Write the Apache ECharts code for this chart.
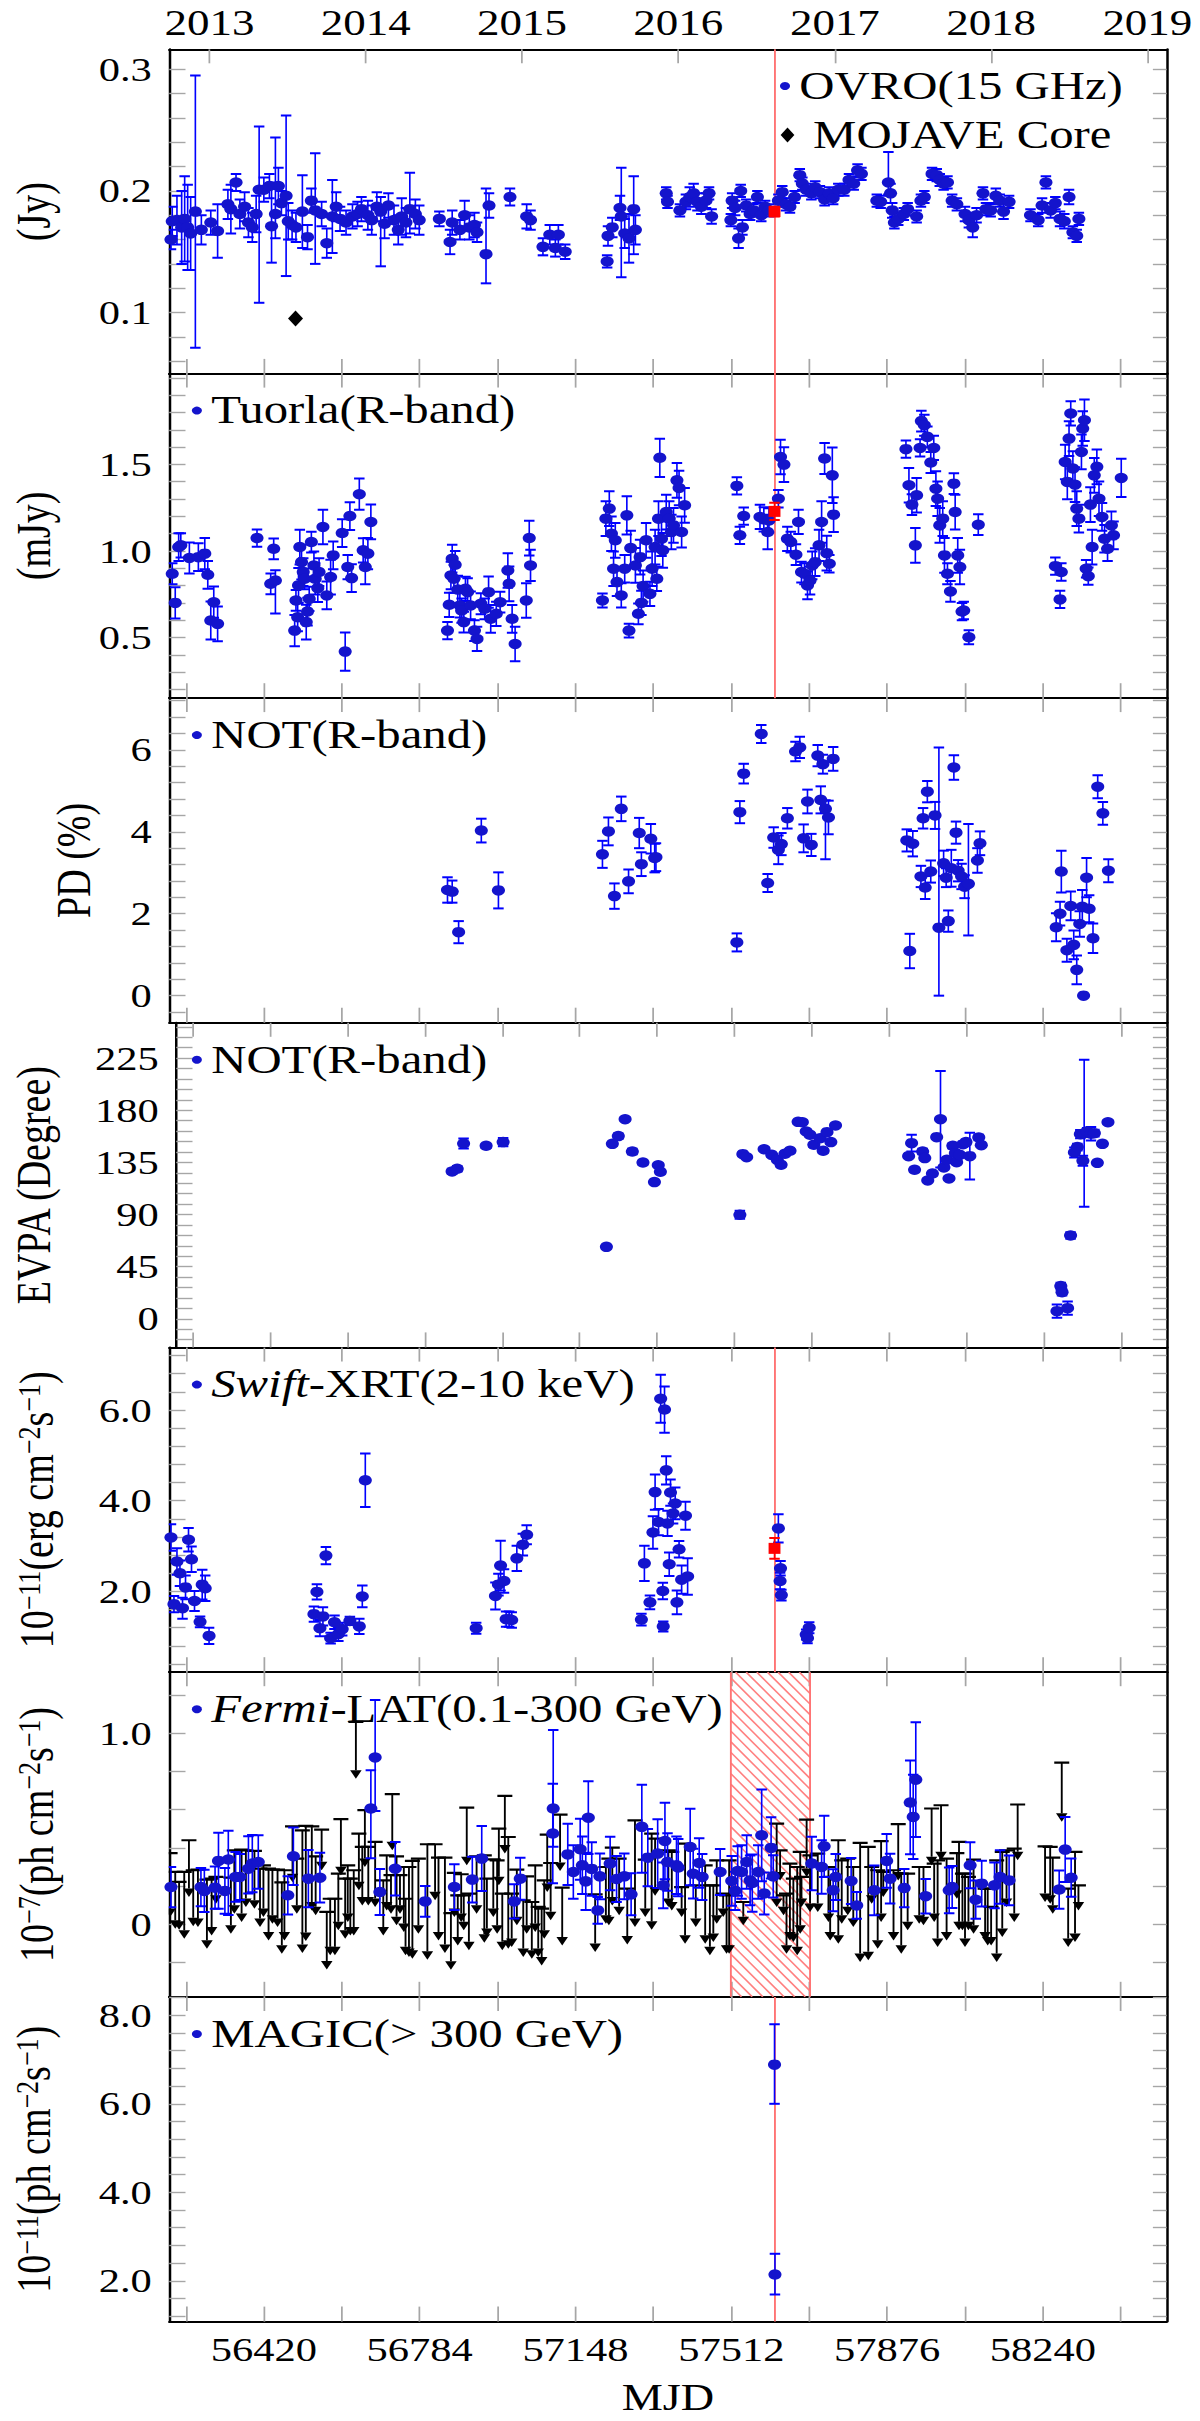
<!DOCTYPE html>
<html>
<head>
<meta charset="utf-8">
<title>Multi-wavelength light curves</title>
<script src="https://cdn.jsdelivr.net/npm/echarts@6.0.0/dist/echarts.min.js"></script>
<style>
html, body { margin: 0; padding: 0; overflow: hidden; background: #fff; }
/* the reference figure is stretched sideways, so the chart is drawn narrower and scaled */
#lc { width: 960px; height: 2421px; transform: scaleX(1.25); transform-origin: 0 0; }
</style>
</head>
<body>
<div id="lc"></div>
<script>
var FONT = "'Liberation Serif', 'DejaVu Serif', serif";
var BLUE = '#0000ff', DOT = '#1414cc', RED = '#ff0000', FLARE = '#ff7373', TICK = '#a6a6a6';

// x axis (MJD) and the year axis on top
var xMin = 56199, xMax = 58529;
var mjdLabels = [56420, 56784, 57148, 57512, 57876, 58240];
var mjdTicks = [56238, 56420, 56602, 56784, 56966, 57148, 57330, 57512, 57694, 57876, 58058, 58240, 58422];
var yearMjd = [56293, 56658, 57023, 57388, 57754, 58119, 58484];
var yearLabels = ['2013', '2014', '2015', '2016', '2017', '2018', '2019'];

var flareMjd = 57614;
var hatchRange = [57511, 57696];

// y tick labels per panel
var ovroLabels = [0.1, 0.2, 0.3];
var tuorlaLabels = [0.5, 1.0, 1.5];
var pdLabels = [0, 2, 4, 6];
var evpaLabels = [0, 45, 90, 135, 180, 225];
var swiftLabels = [2.0, 4.0, 6.0];
var fermiLabels = [0, 1.0];
var magicLabels = [2.0, 4.0, 6.0, 8.0];

// [MJD, value, err] or [MJD, value, errLow, errHigh]
var ovroFlux = [
  [56203,0.160,0.008],[56206,0.175,0.012],[56217,0.176,0.02],[56228,0.170,0.03],[56235,0.177,0.035],
  [56242,0.170,0.035],[56249,0.165,0.03],[56260,0.183,0.112],[56274,0.168,0.012],[56296,0.174,0.01],
  [56312,0.167,0.022],[56336,0.189,0.012],[56343,0.185,0.02],[56355,0.207,0.007],[56364,0.181,0.012],
  [56375,0.187,0.012],[56384,0.174,0.012],[56393,0.170,0.012],[56402,0.181,0.015],[56409,0.201,0.093,0.052],
  [56420,0.201,0.01],[56433,0.204,0.01],[56438,0.171,0.03,0.036],[56447,0.181,0.02,0.063],[56454,0.204,0.015],
  [56461,0.190,0.01],[56472,0.196,0.066],[56477,0.175,0.015],[56486,0.172,0.012],[56495,0.170,0.012],
  [56510,0.183,0.03],[56522,0.162,0.01],[56531,0.192,0.01],[56540,0.184,0.044,0.047],[56555,0.181,0.01],
  [56567,0.157,0.012],[56580,0.179,0.03],[56589,0.187,0.012],[56598,0.177,0.01],[56612,0.174,0.01],
  [56627,0.179,0.01],[56639,0.181,0.01],[56648,0.185,0.01],[56663,0.180,0.012],[56672,0.176,0.012],
  [56684,0.187,0.012],[56693,0.183,0.045,0.012],[56702,0.173,0.012],[56711,0.188,0.01],[56724,0.176,0.012],
  [56734,0.168,0.012],[56742,0.179,0.015],[56752,0.174,0.012],[56761,0.185,0.02,0.03],[56774,0.181,0.012],
  [56783,0.176,0.012],
  [56830,0.177,0.006],[56855,0.158,0.01],[56860,0.174,0.01],[56878,0.168,0.008],[56889,0.180,0.012],
  [56900,0.170,0.01],[56912,0.172,0.01],[56918,0.166,0.008],[56939,0.148,0.024,0.054],[56946,0.188,0.01],
  [56995,0.195,0.007],[57034,0.179,0.01],[57043,0.176,0.008],[57072,0.154,0.007],[57088,0.164,0.008],
  [57101,0.153,0.007],[57108,0.164,0.008],[57124,0.150,0.006],
  [57222,0.142,0.005],[57224,0.163,0.008],[57234,0.170,0.008],[57252,0.186,0.01],[57255,0.179,0.05,0.04],
  [57263,0.165,0.012],[57273,0.161,0.02],[57284,0.185,0.037,0.027],[57288,0.168,0.012],
  [57360,0.198,0.005],[57363,0.191,0.005],[57392,0.184,0.005],[57406,0.191,0.006],[57415,0.195,0.008],
  [57424,0.198,0.008],[57433,0.191,0.007],[57442,0.187,0.006],[57453,0.192,0.006],[57460,0.198,0.005],
  [57466,0.179,0.006],[57511,0.176,0.005],[57514,0.192,0.006],[57521,0.186,0.006],[57529,0.161,0.008],
  [57534,0.200,0.005],[57538,0.170,0.006],[57547,0.188,0.005],[57556,0.181,0.005],[57564,0.184,0.005],
  [57573,0.195,0.005],[57582,0.180,0.005],[57591,0.187,0.005],[57600,0.184,0.005],[57622,0.192,0.005],
  [57631,0.199,0.005],[57640,0.189,0.005],[57649,0.187,0.005],[57660,0.195,0.005],[57672,0.213,0.005],
  [57678,0.206,0.005],[57687,0.201,0.005],[57699,0.198,0.005],[57708,0.203,0.005],[57719,0.199,0.005],
  [57730,0.193,0.005],[57741,0.198,0.005],[57750,0.194,0.005],[57762,0.201,0.005],[57776,0.201,0.005],
  [57787,0.209,0.005],[57798,0.206,0.005],[57807,0.217,0.005],[57816,0.214,0.005],
  [57852,0.192,0.005],[57861,0.191,0.005],[57879,0.207,0.01,0.025],[57884,0.198,0.008],[57888,0.184,0.006],
  [57893,0.174,0.005],[57902,0.177,0.005],[57915,0.181,0.005],[57924,0.185,0.005],[57945,0.179,0.005],
  [57955,0.192,0.005],[57963,0.195,0.005],[57981,0.214,0.005],[57992,0.213,0.005],[57999,0.209,0.005],
  [58008,0.206,0.005],[58017,0.207,0.005],[58028,0.192,0.005],[58039,0.189,0.005],[58058,0.181,0.006],
  [58067,0.176,0.006],[58076,0.170,0.008],[58085,0.180,0.006],[58100,0.198,0.005],[58107,0.185,0.005],
  [58118,0.184,0.005],[58130,0.196,0.006],[58139,0.192,0.005],[58148,0.183,0.006],[58161,0.191,0.005],
  [58211,0.180,0.005],[58229,0.176,0.005],[58238,0.188,0.006],[58247,0.207,0.005],[58258,0.184,0.006],
  [58269,0.190,0.005],[58280,0.177,0.006],[58290,0.175,0.006],[58301,0.195,0.006],[58310,0.166,0.005],
  [58319,0.163,0.005],[58324,0.177,0.005]
];
var mojaveCore = [[56494, 0.095]];
var ovroFlare = [[57613, 0.183, 0.004]];

var tuorlaFlux = [
  [56206,0.869,0.06],[56213,0.701,0.09],[56221,1.023,0.08],[56226,1.033,0.07],[56246,0.960,0.09],
  [56267,0.965,0.08],[56282,0.985,0.09],[56289,0.863,0.08],[56296,0.599,0.11],[56303,0.705,0.09],
  [56312,0.580,0.1],[56404,1.075,0.05],[56436,0.811,0.06],[56443,1.013,0.06],[56447,0.830,0.19,0.06],
  [56492,0.541,0.09],[56495,0.715,0.06],[56499,0.618,0.08],[56501,0.802,0.1],[56504,1.023,0.1],
  [56508,0.936,0.1],[56512,0.879,0.08],[56515,0.840,0.06],[56519,0.590,0.1],[56522,0.651,0.08],
  [56526,0.724,0.07],[56531,1.052,0.06],[56537,0.917,0.08],[56540,0.840,0.09],[56546,0.786,0.08],
  [56549,0.879,0.08],[56558,1.139,0.1],[56567,0.744,0.08],[56576,0.850,0.1],[56582,0.975,0.08],
  [56603,1.104,0.08],[56610,0.420,0.11],[56616,0.908,0.07],[56621,1.202,0.08],[56625,0.844,0.08],
  [56643,1.328,0.09],[56652,1.004,0.07],[56657,0.908,0.1],[56663,0.985,0.09],[56670,1.168,0.1],
  [56849,0.541,0.05],[56853,0.690,0.07],[56857,0.859,0.08],[56860,0.956,0.08],[56864,0.840,0.08],
  [56867,0.921,0.08],[56873,0.778,0.08],[56878,0.686,0.07],[56882,0.657,0.07],[56887,0.590,0.06],
  [56891,0.782,0.07],[56896,0.763,0.08],[56903,0.686,0.08],[56912,0.541,0.06],[56918,0.493,0.07],
  [56927,0.696,0.06],[56936,0.667,0.06],[56945,0.763,0.09],[56950,0.609,0.08],[56963,0.638,0.07],
  [56972,0.705,0.06],[56990,0.888,0.1],[56993,0.811,0.1],[57000,0.609,0.08],[57007,0.464,0.1],
  [57033,0.715,0.1],[57040,1.075,0.1],[57043,0.917,0.09],
  [57211,0.715,0.04],[57219,1.187,0.1],[57227,1.245,0.1],[57232,1.100,0.1],[57237,0.898,0.1],
  [57241,1.062,0.1],[57245,0.821,0.08],[57255,0.744,0.07],[57263,0.898,0.08],[57268,1.206,0.11],
  [57273,0.541,0.04],[57277,1.017,0.1],[57288,0.917,0.1],[57295,0.638,0.06],[57299,0.965,0.1],
  [57302,0.701,0.07],[57306,0.798,0.09],[57313,1.062,0.1],[57322,0.753,0.07],[57327,0.898,0.1],
  [57334,1.023,0.1],[57338,0.840,0.07],[57342,1.187,0.1],[57345,1.538,0.11],[57349,1.071,0.1],
  [57352,1.004,0.1],[57360,1.225,0.1],[57367,1.187,0.1],[57372,1.110,0.1],[57377,1.148,0.1],
  [57385,1.408,0.1],[57390,1.364,0.1],[57396,1.110,0.09],[57403,1.264,0.1],
  [57525,1.376,0.05],[57532,1.091,0.05],[57541,1.202,0.05],[57579,1.197,0.07],[57588,1.183,0.07],
  [57597,1.110,0.1],[57600,1.177,0.07],[57622,1.302,0.05],[57627,1.543,0.1],[57635,1.499,0.1],
  [57643,1.071,0.07],[57651,1.052,0.06],[57663,0.979,0.06],[57669,1.168,0.07],[57676,0.879,0.06],
  [57683,0.869,0.06],[57690,0.802,0.08],[57696,0.830,0.08],[57701,0.917,0.08],[57708,0.936,0.08],
  [57717,1.033,0.09],[57723,1.168,0.12],[57730,1.534,0.09],[57735,0.988,0.1],[57741,0.927,0.05],
  [57748,1.437,0.16],[57751,1.210,0.1],
  [57920,1.588,0.05],[57927,1.380,0.1],[57934,1.268,0.06],[57942,1.033,0.1],[57945,1.322,0.1],
  [57953,1.595,0.05],[57956,1.750,0.06],[57963,1.726,0.06],[57970,1.659,0.06],[57978,1.511,0.06],
  [57985,1.595,0.07],[57990,1.360,0.1],[57994,1.302,0.1],[57999,1.148,0.1],[58006,1.187,0.1],
  [58010,0.975,0.1],[58017,0.869,0.06],[58024,0.767,0.06],[58032,1.389,0.06],[58035,1.225,0.1],
  [58041,0.975,0.1],[58046,0.908,0.1],[58051,0.651,0.05],[58055,0.657,0.05],[58067,0.503,0.04],
  [58089,1.152,0.06],
  [58269,0.913,0.05],[58280,0.721,0.05],[58283,0.879,0.05],[58292,1.514,0.1],[58297,1.399,0.1],
  [58301,1.649,0.1],[58305,1.794,0.07],[58310,1.476,0.1],[58315,1.383,0.1],[58319,1.245,0.1],
  [58324,1.187,0.08],[58330,1.572,0.1],[58333,1.707,0.1],[58337,1.755,0.12],[58341,0.898,0.05],
  [58346,0.855,0.05],[58351,1.268,0.1],[58355,1.023,0.1],[58360,1.437,0.1],[58366,1.486,0.1],
  [58371,1.302,0.1],[58378,1.197,0.08],[58384,1.071,0.08],[58391,1.013,0.07],[58400,1.148,0.08],
  [58405,1.091,0.08],[58423,1.422,0.11]
];
var tuorlaFlare = [[57613, 1.229, 0.05]];

var pdValues = [
  [56849,2.58,0.31],[56860,2.54,0.27],[56875,1.55,0.27],[56928,4.03,0.29],[56968,2.57,0.44],
  [57211,3.45,0.33],[57225,4.01,0.34],[57239,2.43,0.31],[57255,4.56,0.30],[57272,2.79,0.29],
  [57297,3.97,0.37],[57302,3.21,0.29],[57324,3.83,0.36],[57333,3.36,0.35],[57336,3.38,0.34],
  [57525,1.30,0.22],[57532,4.48,0.27],[57541,5.42,0.24],[57582,6.39,0.22],[57597,2.75,0.22],
  [57611,3.86,0.25],[57622,3.56,0.35],[57629,3.70,0.27],[57643,4.33,0.25],[57662,5.96,0.24],
  [57672,6.06,0.26],[57681,3.84,0.34],[57690,4.74,0.29],[57699,3.68,0.27],[57714,5.86,0.26],
  [57721,4.78,0.33],[57726,5.65,0.23],[57732,4.56,1.23,0.21],[57739,4.35,0.41],[57750,5.78,0.29],
  [57922,3.79,0.27],[57929,1.09,0.42],[57936,3.71,0.31],[57955,2.91,0.26],[57960,4.33,0.25],
  [57965,2.64,0.28],[57970,4.98,0.26],[57978,3.03,0.27],[57988,4.40,0.33],[57997,1.66,1.66,4.4],
  [58008,3.23,0.31],[58014,2.88,0.23],[58019,1.82,0.26],[58026,3.11,0.45],[58032,5.57,0.30],
  [58037,3.98,0.27],[58042,3.05,0.26],[58050,2.91,0.31],[58057,2.66,0.28],[58066,2.73,1.26,1.46],
  [58087,3.30,0.30],[58093,3.72,0.29],
  [58271,1.67,0.34],[58280,2.00,0.29],[58283,3.03,0.51],[58296,1.11,0.28],[58305,2.19,0.35],
  [58312,1.24,0.35],[58319,0.63,0.35],[58326,1.75,0.31],[58332,2.17,0.41],[58335,0.0,0.03],
  [58342,2.88,0.48],[58348,2.12,0.33],[58357,1.40,0.36],[58368,5.10,0.28],[58380,4.45,0.28],
  [58393,3.05,0.28]
];

var evpaValues = [
  [56848,127.2,2.3],[56860,129.5,2.3],[56875,151.3,4.3],[56928,149.3,1.7],[56968,152.5,3.5],
  [57211,62.1,1.4],[57225,151.0,1.7],[57239,157.7,2.3],[57255,172.3,1.4],[57272,144.4,2.3],
  [57297,134.9,1.7],[57324,118.0,1.4],[57333,132.6,1.4],[57338,126.9,1.4],
  [57525,89.8,3.5],[57532,142.1,1.7],[57541,139.5,1.4],[57582,146.4,1.4],[57600,141.5,1.4],
  [57613,137.2,1.4],[57622,132.9,1.4],[57631,142.4,1.4],[57643,145.0,1.4],[57662,170.0,1.4],
  [57672,169.7,1.4],[57681,161.7,1.4],[57690,158.8,1.4],[57699,150.2,1.7],[57714,155.9,1.4],
  [57721,145.0,1.4],[57730,161.1,1.4],[57739,152.5,1.4],[57750,166.9,1.4],
  [57922,140.4,1.7],[57929,151.6,7.2],[57936,128.6,1.7],[57955,144.4,2.3],[57960,138.7,1.4],
  [57967,119.4,1.4],[57978,125.4,1.4],[57988,156.8,1.7],[57997,172.3,41.7],[58005,130.6,1.7],
  [58012,137.2,1.7],[58017,121.1,1.4],[58026,149.3,2.3],[58032,143.0,1.4],[58035,135.2,1.7],
  [58042,141.5,1.4],[58050,150.7,2.3],[58057,152.5,2.3],[58066,140.4,20.1],[58087,156.5,2.3],
  [58093,149.9,1.4],
  [58271,6.6,5.8],[58280,28.2,2.9],[58283,23.0,2.9],[58296,9.2,5.8],[58303,71.9,2.9],
  [58312,143.6,4.3],[58319,148.2,2.9],[58326,159.4,3.5],[58332,136.4,4.3],[58335,160.2,63.4],
  [58342,161.7,2.9],[58351,159.7,5.8],[58359,160.2,2.9],[58366,134.6,1.7],[58378,151.0,1.7],
  [58391,169.7,1.7]
];

var swiftFlux = [
  [56203,3.19,0.29],[56210,1.72,0.18],[56217,2.66,0.29],[56224,2.40,0.28],[56230,1.63,0.23],
  [56237,2.09,0.26],[56244,3.14,0.26],[56251,2.71,0.28],[56258,1.79,0.22],[56271,1.33,0.12],
  [56276,2.15,0.33],[56283,2.07,0.28],[56292,1.02,0.18],
  [56537,1.50,0.17],[56544,1.99,0.17],[56551,1.19,0.18],[56558,1.45,0.2],[56565,2.79,0.19],
  [56576,0.97,0.12],[56585,1.32,0.15],[56594,1.06,0.15],[56603,1.17,0.14],[56621,1.35,0.09],
  [56643,1.23,0.17],[56650,1.89,0.24],[56657,4.45,0.59],
  [56916,1.19,0.12],[56961,1.90,0.30],[56968,2.15,0.24],[56973,2.57,0.55],[56981,2.23,0.26],
  [56986,1.39,0.17],[56993,1.39,0.17],[56999,1.37,0.17],[57011,2.73,0.28],[57025,3.03,0.24],
  [57034,3.25,0.21],
  [57302,1.38,0.13],[57309,2.62,0.39],[57322,1.76,0.15],[57329,3.30,0.36],[57334,4.19,0.39],
  [57342,3.53,0.29],[57347,6.25,0.53],[57352,2.01,0.18],[57353,1.23,0.11],[57356,6.01,0.51],
  [57360,4.67,0.31],[57363,3.50,0.28],[57367,2.60,0.26],[57370,4.18,0.29],[57376,3.72,0.22],
  [57381,3.94,0.35],[57385,1.76,0.26],[57390,2.93,0.18],[57396,2.26,0.31],[57405,3.67,0.31],
  [57410,2.33,0.40],
  [57622,3.39,0.31],[57626,2.23,0.18],[57627,2.51,0.16],[57629,1.92,0.12],
  [57687,1.05,0.11],[57690,0.97,0.11],[57694,1.20,0.12]
];
var swiftFlare = [[57613, 2.95, 0.23]];

var fermiFlux = [
  [56203,0.195,0.105],[56273,0.195,0.10],[56281,0.175,0.11],[56306,0.192,0.11],[56314,0.332,0.25,0.147],
  [56329,0.175,0.12],[56337,0.339,0.29,0.15],[56354,0.248,0.13],[56364,0.248,0.12],[56384,0.291,0.13,0.17],
  [56393,0.318,0.15],[56407,0.326,0.14],[56476,0.152,0.10],[56489,0.356,0.15],[56524,0.239,0.15],
  [56551,0.244,0.13],[56670,0.606,0.26,0.2],[56680,0.873,0.28,0.30],[56691,0.169,0.12],[56727,0.291,0.14],
  [56797,0.120,0.08],[56865,0.195,0.12],[56907,0.234,0.12],[56929,0.344,0.17],[57005,0.120,0.09],
  [57019,0.239,0.11],[57095,0.475,0.26],[57096,0.606,0.2,0.41],[57130,0.366,0.16],[57143,0.274,0.14],
  [57159,0.393,0.16],[57164,0.309,0.15],[57172,0.225,0.15],[57178,0.558,0.19],[57186,0.290,0.14],
  [57200,0.073,0.07],[57205,0.251,0.12],[57229,0.318,0.14],[57244,0.237,0.12],[57262,0.251,0.12],
  [57278,0.157,0.11],[57303,0.510,0.24,0.22],[57317,0.349,0.15],[57340,0.370,0.18],[57353,0.204,0.12],
  [57357,0.436,0.2],[57363,0.326,0.15],[57384,0.309,0.15],[57388,0.297,0.15],[57416,0.405,0.2],
  [57423,0.265,0.13],[57437,0.321,0.13],[57444,0.248,0.12],[57486,0.274,0.12],[57513,0.227,0.13],
  [57521,0.175,0.1],[57527,0.279,0.13],[57536,0.274,0.14],[57548,0.326,0.14],[57556,0.230,0.13],
  [57561,0.216,0.15],[57575,0.274,0.14],[57583,0.466,0.24],[57589,0.161,0.11],[57605,0.400,0.16],
  [57610,0.251,0.11],[57700,0.318,0.14],[57723,0.300,0.14],[57729,0.408,0.16],[57750,0.178,0.11],
  [57756,0.248,0.12],[57792,0.227,0.12],[57805,0.099,0.07],[57846,0.178,0.13],[57875,0.332,0.14],
  [57883,0.239,0.13],[57916,0.190,0.1],[57930,0.637,0.27,0.22],[57937,0.562,0.22],[57943,0.757,0.3],
  [57966,0.147,0.09],[58021,0.178,0.12],[58028,0.195,0.11],[58070,0.309,0.12],[58083,0.129,0.1],
  [58097,0.213,0.12],[58127,0.204,0.12],[58140,0.248,0.14],[58161,0.230,0.13],[58278,0.182,0.1],
  [58292,0.391,0.17],[58306,0.244,0.1]
];
// [MJD, upper limit, arrow tip]
var fermiUL = [
  [56201,0.373,0.038],[56213,0.274,-0.023],[56222,0.222,-0.028],[56234,0.274,-0.075],[56245,0.440,0.143],
  [56255,0.283,-0.010],[56266,0.286,-0.014],[56287,0.234,-0.127],[56298,0.239,-0.058],[56308,0.248,0.108],
  [56343,0.244,-0.049],[56351,0.387,0.056],[56368,0.391,0.012],[56378,0.387,0.091],[56398,0.384,0.082],
  [56411,0.291,-0.014],[56419,0.309,0.038],[56431,0.291,-0.084],[56440,0.286,0.003],[56452,0.286,-0.014],
  [56462,0.220,-0.154],[56468,0.283,-0.084],[56487,0.513,0.220],[56497,0.344,0.056],[56510,0.492,-0.150],
  [56518,0.515,-0.087],[56532,0.513,0.073],[56541,0.356,0.047],[56555,0.496,0.283],[56567,0.065,-0.236],
  [56575,0.134,-0.162],[56586,0.134,-0.162],[56594,0.265,-0.031],[56600,0.550,0.257],[56610,0.239,-0.075],
  [56616,0.309,0.012],[56622,0.239,-0.058],[56630,0.283,-0.058],[56635,1.059,0.761],[56642,0.475,0.178],
  [56650,0.405,0.099],[56656,0.597,0.300],[56664,0.405,0.099],[56680,0.431,0.091],[56699,0.230,-0.058],
  [56707,0.361,0.073],[56717,0.257,0.056],[56720,0.681,0.387],[56730,0.356,-0.005],[56738,0.257,0.056],
  [56747,0.300,-0.040],[56751,0.134,-0.162],[56759,0.300,-0.171],[56767,0.332,-0.180],[56781,0.344,-0.049],
  [56802,0.419,-0.185],[56820,0.419,0.126],[56828,0.349,-0.084],[56843,0.349,-0.150],[56857,0.059,-0.237],
  [56865,0.269,0.038],[56873,0.152,-0.110],[56881,0.262,0.012],[56887,0.152,-0.031],[56894,0.611,0.309],
  [56899,0.161,-0.136],[56917,0.356,0.056],[56935,0.361,-0.096],[56941,0.239,-0.066],[56956,0.340,0.038],
  [56965,0.335,-0.049],[56969,0.501,0.204],[56977,0.161,-0.136],[56983,0.672,0.370],[56991,0.457,-0.127],
  [56999,0.161,-0.119],[57011,0.286,-0.005],[57026,0.126,-0.171],[57034,0.251,-0.049],[57046,0.117,-0.180],
  [57054,0.309,-0.040],[57061,0.091,-0.171],[57069,0.082,-0.215],[57075,0.230,-0.075],[57082,0.469,0.169],
  [57090,0.321,0.021],[57112,0.574,0.279],[57117,0.192,-0.110],[57194,0.157,-0.145],[57219,0.300,0.003],
  [57226,0.344,-0.005],[57234,0.401,0.099],[57250,0.344,0.047],[57269,0.187,-0.105],[57287,0.544,-0.014],
  [57311,0.339,0.038],[57326,0.475,-0.028],[57334,0.448,0.150],[57365,0.387,0.091],
  [57373,0.379,0.073],[57396,0.195,0.038],[57404,0.422,-0.101],[57429,0.204,-0.014],[57451,0.309,-0.101],
  [57462,0.204,-0.162],[57470,0.204,-0.092],[57478,0.335,0.003],[57493,0.161,0.038],[57501,0.152,-0.154],
  [57507,0.335,-0.154],[57540,0.117,-0.005],[57618,0.527,0.091],[57626,0.387,0.230],[57634,0.152,0.047],
  [57641,0.161,-0.154],[57649,0.318,-0.084],[57657,0.239,-0.092],[57666,0.300,-0.162],[57673,0.379,-0.049],
  [57676,0.248,0.091],[57688,0.548,0.248],[57696,0.361,0.065],[57714,0.370,0.065],[57739,0.300,0.012],
  [57743,0.248,-0.084],[57762,0.440,-0.101],[57770,0.335,0.003],[57784,0.344,0.047],[57797,0.300,-0.014],
  [57813,0.426,-0.197],[57832,0.405,-0.188],[57840,0.300,0.108],[57854,0.283,-0.127],[57862,0.435,0.012],
  [57867,0.274,0.143],[57891,0.283,-0.084],[57902,0.524,0.230],[57909,0.265,-0.154],[57924,0.265,-0.031],
  [57951,0.300,0.003],[57961,0.300,-0.005],[57980,0.606,0.309],[57986,0.318,0.012],[57994,0.335,-0.119],
  [58002,0.623,0.335],[58015,0.344,-0.084],[58039,0.373,0.134],[58044,0.431,-0.031],[58052,0.265,-0.031],
  [58058,0.265,-0.119],[58066,0.248,-0.031],[58078,0.339,-0.049],[58105,0.187,-0.084],[58111,0.187,-0.110],
  [58119,0.091,-0.110],[58132,0.335,-0.197],[58145,0.379,-0.066],[58155,0.387,0.091],[58173,0.396,0.012],
  [58181,0.627,0.335],[58245,0.408,0.117],[58257,0.405,0.108],[58263,0.349,0.056],[58284,0.846,0.537],
  [58299,0.187,-0.119],[58315,0.379,-0.092],[58323,0.204,0.073]
];

var magicFlux = [[57613, 6.885, 0.885, 0.915], [57614, 2.14, 0.45, 0.47]];

// layout of the seven stacked panels (chart px, before the sideways stretch)
var gridLeft = 135.4, gridWidth = 797.9, panelH = 324.6;
var panels = [
  {top: 49.3,   yMin: 0.0495, yMax: 0.3165, step: 0.02, labels: ovroLabels,   fmt: function (v) { return v.toFixed(1); }, name: '(Jy)', gap: 89},
  {top: 373.6,  yMin: 0.151,  yMax: 2.024,  step: 0.1,  labels: tuorlaLabels, fmt: function (v) { return v.toFixed(1); }, name: '(mJy)', gap: 89},
  {top: 698.1,  yMin: -0.66,  yMax: 7.264,  step: 0.4,  labels: pdLabels,     fmt: function (v) { return v.toFixed(0); }, name: 'PD (%)', gap: 57},
  {top: 1022.8, yMin: -24.7,  yMax: 255.5,  step: 9,    labels: evpaLabels,   fmt: function (v) { return v.toFixed(0); }, name: 'EVPA (Degree)', gap: 95},
  {top: 1347.6, yMin: 0.22,   yMax: 7.376,  step: 0.4,  labels: swiftLabels,  fmt: function (v) { return v.toFixed(1); }, name: '10{sup|\u221211}(erg cm{sup|\u22122}s{sup|\u22121})', gap: 87},
  {top: 1672.2, yMin: -0.379, yMax: 1.319,  step: 0.2,  labels: fermiLabels,  fmt: function (v) { return v === 0 ? '0' : v.toFixed(1); }, name: '10{sup|\u22127}(ph cm{sup|\u22122}s{sup|\u22121})', gap: 87},
  {top: 1997.0, yMin: 1.077,  yMax: 8.414,  step: 0.4,  labels: magicLabels,  fmt: function (v) { return v.toFixed(1); }, name: '10{sup|\u221211}(ph cm{sup|\u22122}s{sup|\u22121})', gap: 89}
];

function minorTicks(min, max, step) {
  var out = [];
  var k = Math.ceil(min / step - 1e-9);
  while (k * step <= max + 1e-9) { out.push(+(k * step).toFixed(6)); k++; }
  return out;
}

function withErrors(arr) {
  return arr.map(function (d) { return [d[0], d[1], d[2], d.length > 3 ? d[3] : d[2]]; });
}

var tickStyle = {color: TICK, width: 1.4};
var frame = {show: true, onZero: false, lineStyle: {color: '#000', width: 2}};

var grids = [], xAxes = [], yAxes = [], series = [], legends = [];

panels.forEach(function (p, i) {
  grids.push({left: gridLeft, top: p.top, width: gridWidth, height: panelH});
  xAxes.push({
    type: 'value', gridIndex: i, position: 'bottom', min: xMin, max: xMax,
    axisLine: frame, splitLine: {show: false},
    axisTick: {show: true, inside: true, length: 15, customValues: mjdTicks, lineStyle: tickStyle},
    axisLabel: {show: i === 6, customValues: mjdLabels, margin: 11, fontSize: 34, fontFamily: FONT, color: '#000',
      formatter: function (v) { return String(v); }},
    name: i === 6 ? 'MJD' : '', nameLocation: 'middle', nameGap: 58,
    nameTextStyle: {fontFamily: FONT, fontSize: 37, color: '#000'}
  });
  xAxes.push({
    type: 'value', gridIndex: i, position: 'top', min: xMin, max: xMax,
    axisLine: frame, splitLine: {show: false},
    axisTick: {show: true, inside: true, length: 14, customValues: i === 0 ? yearMjd : mjdTicks, lineStyle: tickStyle},
    axisLabel: {show: i === 0, customValues: yearMjd, margin: 8, fontSize: 36, fontFamily: FONT, color: '#000',
      formatter: function (v) { return yearLabels[yearMjd.indexOf(v)]; }}
  });
  var ticks = minorTicks(p.yMin, p.yMax, p.step);
  yAxes.push({
    type: 'value', gridIndex: i, position: 'left', min: p.yMin, max: p.yMax,
    axisLine: frame, splitLine: {show: false},
    axisTick: {show: true, inside: true, length: 13, customValues: ticks, lineStyle: tickStyle},
    axisLabel: {customValues: p.labels, margin: 14, fontSize: 34, fontFamily: FONT, color: '#000', formatter: p.fmt},
    name: p.name, nameLocation: 'middle', nameGap: p.gap,
    nameTextStyle: {fontFamily: FONT, fontSize: 38, color: '#000',
      rich: {sup: {fontFamily: FONT, fontSize: 26, color: '#000', verticalAlign: 'top'}}}
  });
  yAxes.push({
    type: 'value', gridIndex: i, position: 'right', min: p.yMin, max: p.yMax,
    axisLine: frame, splitLine: {show: false},
    axisTick: {show: true, inside: true, length: 11, customValues: ticks, lineStyle: tickStyle},
    axisLabel: {show: false}
  });
});

function errorBars(i, data, color, cap, z) {
  return {
    type: 'custom', xAxisIndex: 2 * i, yAxisIndex: 2 * i, z: z, clip: true, silent: true,
    data: withErrors(data), encode: {x: 0, y: 1},
    renderItem: function (params, api) {
      var x = api.value(0), y = api.value(1);
      var a = api.coord([x, y + api.value(3)]);
      var b = api.coord([x, y - api.value(2)]);
      return {type: 'group', children: [
        {type: 'line', shape: {x1: a[0], y1: a[1], x2: b[0], y2: b[1]}, style: {stroke: color, lineWidth: 1.3}},
        {type: 'line', shape: {x1: a[0] - cap, y1: a[1], x2: a[0] + cap, y2: a[1]}, style: {stroke: color, lineWidth: 2}},
        {type: 'line', shape: {x1: b[0] - cap, y1: b[1], x2: b[0] + cap, y2: b[1]}, style: {stroke: color, lineWidth: 2}}
      ]};
    }
  };
}

function points(i, name, data, symbol, size, color, z) {
  return {
    type: 'scatter', name: name, xAxisIndex: 2 * i, yAxisIndex: 2 * i, z: z, silent: true,
    data: data, encode: {x: 0, y: 1}, symbol: symbol, symbolSize: size,
    itemStyle: {color: color, opacity: 1}
  };
}

function flareLine(i) {
  var p = panels[i];
  return {
    type: 'custom', xAxisIndex: 2 * i, yAxisIndex: 2 * i, z: 1, silent: true,
    data: [[flareMjd, (p.yMin + p.yMax) / 2]], encode: {x: 0, y: 1},
    renderItem: function (params, api) {
      var cs = params.coordSys;
      var x = api.coord([api.value(0), api.value(1)])[0];
      return {type: 'line', shape: {x1: x, y1: cs.y, x2: x, y2: cs.y + cs.height},
        style: {stroke: FLARE, lineWidth: 1.5}};
    }
  };
}

function hatch(i) {
  var p = panels[i];
  return {
    type: 'custom', xAxisIndex: 2 * i, yAxisIndex: 2 * i, z: 1, silent: true,
    data: [[hatchRange[0], (p.yMin + p.yMax) / 2, hatchRange[1]]], encode: {x: 0, y: 1},
    renderItem: function (params, api) {
      var cs = params.coordSys;
      var a = api.coord([api.value(0), api.value(1)])[0];
      var b = api.coord([api.value(2), api.value(1)])[0];
      var y0 = cs.y, H = cs.height, k = 1.25, gap = 8.5;
      var kids = [];
      for (var s = a - H / k; s < b; s += gap) {
        var t0 = Math.max(0, (a - s) * k), t1 = Math.min(H, (b - s) * k);
        if (t1 > t0) {
          kids.push({type: 'line', shape: {x1: s + t0 / k, y1: y0 + t0, x2: s + t1 / k, y2: y0 + t1},
            style: {stroke: '#ff8080', lineWidth: 1.4}});
        }
      }
      kids.push({type: 'line', shape: {x1: a, y1: y0, x2: a, y2: y0 + H}, style: {stroke: FLARE, lineWidth: 1.5}});
      kids.push({type: 'line', shape: {x1: b, y1: y0, x2: b, y2: y0 + H}, style: {stroke: FLARE, lineWidth: 1.5}});
      return {type: 'group', children: kids};
    }
  };
}

function upperLimits(i, data) {
  return {
    type: 'custom', xAxisIndex: 2 * i, yAxisIndex: 2 * i, z: 2, clip: true, silent: true,
    data: data, encode: {x: 0, y: 1},
    renderItem: function (params, api) {
      var x = api.value(0);
      var a = api.coord([x, api.value(1)]);
      var b = api.coord([x, api.value(2)]);
      var aw = 4.6, ah = 8.5;
      return {type: 'group', children: [
        {type: 'line', shape: {x1: a[0], y1: a[1], x2: b[0], y2: b[1] - ah}, style: {stroke: '#000', lineWidth: 1.5}},
        {type: 'line', shape: {x1: a[0] - 6, y1: a[1], x2: a[0] + 6, y2: a[1]}, style: {stroke: '#000', lineWidth: 2.2}},
        {type: 'polygon', shape: {points: [[b[0] - aw, b[1] - ah], [b[0] + aw, b[1] - ah], [b[0], b[1]]]}, style: {fill: '#000'}}
      ]};
    }
  };
}

var DOTSIZE = 10.5, CAP = 4.2;
// panel 1: OVRO + MOJAVE
series.push(flareLine(0));
series.push(errorBars(0, ovroFlux, BLUE, CAP, 2));
series.push(points(0, 'OVRO(15 GHz)', ovroFlux, 'circle', DOTSIZE, DOT, 3));
series.push(points(0, 'MOJAVE Core', mojaveCore, 'diamond', [12, 16], '#000', 3));
series.push(errorBars(0, ovroFlare, RED, CAP, 4));
series.push(points(0, 'ovro-flare', ovroFlare, 'rect', [9.5, 11], RED, 5));
// panel 2: Tuorla
series.push(flareLine(1));
series.push(errorBars(1, tuorlaFlux, BLUE, CAP, 2));
series.push(points(1, 'Tuorla(R-band)', tuorlaFlux, 'circle', DOTSIZE, DOT, 3));
series.push(errorBars(1, tuorlaFlare, RED, CAP, 4));
series.push(points(1, 'tuorla-flare', tuorlaFlare, 'rect', [9.5, 11], RED, 5));
// panel 3: polarisation degree
series.push(errorBars(2, pdValues, BLUE, CAP, 2));
series.push(points(2, 'NOT(R-band)', pdValues, 'circle', DOTSIZE, DOT, 3));
// panel 4: EVPA
series.push(errorBars(3, evpaValues, BLUE, CAP, 2));
series.push(points(3, 'NOT(R-band)', evpaValues, 'circle', DOTSIZE, DOT, 3));
// panel 5: Swift-XRT
series.push(flareLine(4));
series.push(errorBars(4, swiftFlux, BLUE, CAP, 2));
series.push(points(4, 'Swift-XRT(2-10 keV)', swiftFlux, 'circle', DOTSIZE, DOT, 3));
series.push(errorBars(4, swiftFlare, RED, CAP, 4));
series.push(points(4, 'swift-flare', swiftFlare, 'rect', [9.5, 11], RED, 5));
// panel 6: Fermi-LAT
series.push(hatch(5));
series.push(upperLimits(5, fermiUL));
series.push(errorBars(5, fermiFlux, BLUE, CAP, 3));
series.push(points(5, 'Fermi-LAT(0.1-300 GeV)', fermiFlux, 'circle', DOTSIZE, DOT, 4));
// panel 7: MAGIC
series.push(flareLine(6));
series.push(errorBars(6, magicFlux, BLUE, CAP, 2));
series.push(points(6, 'MAGIC(> 300 GeV)', magicFlux, 'circle', DOTSIZE, DOT, 3));

var legendText = {fontFamily: FONT, fontSize: 39, color: '#000',
  rich: {it: {fontFamily: FONT, fontSize: 39, fontStyle: 'italic', color: '#000'}}};

function panelLegend(i, name, formatter) {
  return {
    data: [{name: name, icon: 'circle'}], left: 153.5, top: panels[i].top + 17.5,
    padding: 0, itemWidth: 13, itemHeight: 8, selectedMode: false,
    textStyle: legendText, formatter: formatter || '{name}'
  };
}

legends.push({data: [{name: 'OVRO(15 GHz)', icon: 'circle'}], left: 624, top: 66.5, padding: 0,
  itemWidth: 13, itemHeight: 8, selectedMode: false, textStyle: legendText});
legends.push({data: [{name: 'MOJAVE Core', icon: 'diamond'}], left: 624.5, top: 115.5, padding: 0,
  itemWidth: 11, itemHeight: 15, selectedMode: false,
  textStyle: {fontFamily: FONT, fontSize: 39, color: '#000', padding: [0, 0, 0, 10]}});
legends.push(panelLegend(1, 'Tuorla(R-band)'));
legends.push(panelLegend(2, 'NOT(R-band)'));
legends.push(panelLegend(3, 'NOT(R-band)'));
legends.push(panelLegend(4, 'Swift-XRT(2-10 keV)', function () { return '{it|Swift}-XRT(2-10 keV)'; }));
legends.push(panelLegend(5, 'Fermi-LAT(0.1-300 GeV)', function () { return '{it|Fermi}-LAT(0.1-300 GeV)'; }));
legends.push(panelLegend(6, 'MAGIC(> 300 GeV)'));

var chart = echarts.init(document.getElementById('lc'), null, {renderer: 'svg'});
chart.setOption({
  animation: false,
  backgroundColor: '#fff',
  textStyle: {fontFamily: FONT, color: '#000'},
  grid: grids,
  xAxis: xAxes,
  yAxis: yAxes,
  legend: legends,
  series: series
});
</script>
</body>
</html>
